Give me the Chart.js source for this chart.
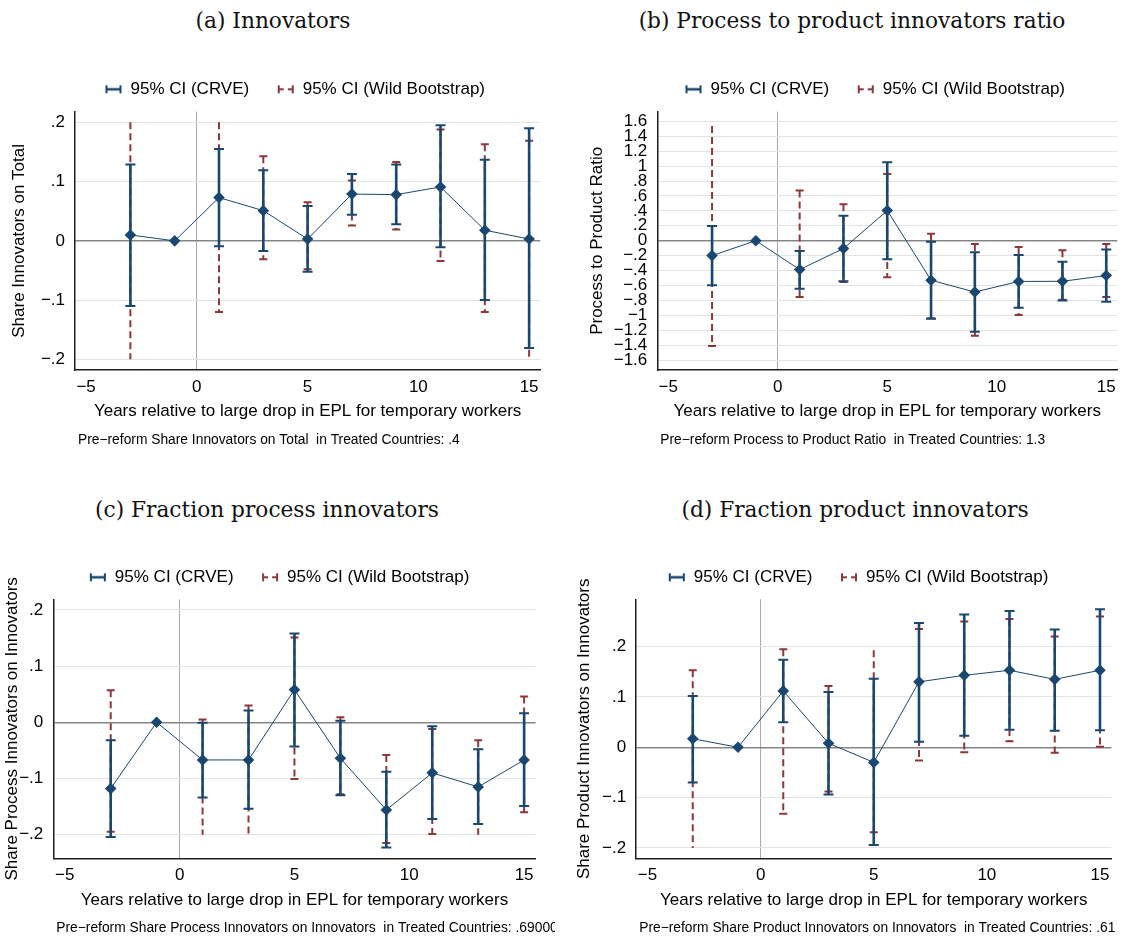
<!DOCTYPE html>
<html><head><meta charset="utf-8">
<script src="https://cdn.jsdelivr.net/npm/chart.js@4.4.1/dist/chart.umd.min.js"></script>
<style>
html,body{margin:0;padding:0;background:#fff;}
body{width:1123px;height:936px;overflow:hidden;position:relative;}
#page{position:absolute;left:0;top:0;width:1123px;height:936px;overflow:hidden;background:#fff;}
canvas{position:absolute;}
.ptitle{position:absolute;width:600px;text-align:center;font-family:'DejaVu Serif',serif;font-size:21.7px;line-height:24px;color:#111;white-space:nowrap;}
</style></head><body><div id="page">
<div class="ptitle" id="t0"></div><div class="ptitle" id="t1"></div>
<div class="ptitle" id="t2"></div><div class="ptitle" id="t3"></div>
<canvas id="c0"></canvas><canvas id="c1"></canvas><canvas id="c2"></canvas><canvas id="c3"></canvas>
</div>
<script>
// ---------- shared categories / labels ----------
const years = [-3, -1, 1, 3, 5, 7, 9, 11, 13, 15];
const xTickValues = [-5, 0, 5, 10, 15];
const xTickLabels = ['−5', '0', '5', '10', '15'];
const shareTickValues = [-0.2, -0.1, 0, 0.1, 0.2];
const shareTickLabels = ['−.2', '−.1', '0', '.1', '.2'];
const ratioTickValues = [-1.6, -1.4, -1.2, -1, -0.8, -0.6, -0.4, -0.2, 0, 0.2, 0.4, 0.6, 0.8, 1, 1.2, 1.4, 1.6];
const ratioTickLabels = ['−1.6', '−1.4', '−1.2', '−1', '−.8', '−.6', '−.4', '−.2', '0', '.2', '.4', '.6', '.8', '1', '1.2', '1.4', '1.6'];
const legendLabels = ['95% CI (CRVE)', '95% CI (Wild Bootstrap)'];
const xAxisTitle = 'Years relative to large drop in EPL for temporary workers';
const panelTitles = ['(a) Innovators', '(b) Process to product innovators ratio', '(c) Fraction process innovators', '(d) Fraction product innovators'];
const yAxisTitles = ['Share Innovators on Total', 'Process to Product Ratio', 'Share Process Innovators on Innovators', 'Share Product Innovators on Innovators'];
const notes = [
  'Pre−reform Share Innovators on Total  in Treated Countries: .4',
  'Pre−reform Process to Product Ratio  in Treated Countries: 1.3',
  'Pre−reform Share Process Innovators on Innovators  in Treated Countries: .69000',
  'Pre−reform Share Product Innovators on Innovators  in Treated Countries: .61'
];

// ---------- (a) Innovators ----------
const innovEst    = [0.010, 0, 0.073, 0.051, 0.003, 0.079, 0.078, 0.091, 0.018, 0.003];
const innovCrveLo = [-0.110, null, -0.009, -0.017, -0.052, 0.044, 0.028, -0.011, -0.100, -0.181];
const innovCrveHi = [0.129, null, 0.155, 0.119, 0.059, 0.113, 0.129, 0.195, 0.137, 0.190];
const innovWildLo = [-0.200, null, -0.120, -0.031, -0.048, 0.026, 0.019, -0.034, -0.120, -0.200];
const innovWildHi = [0.200, null, 0.200, 0.143, 0.065, 0.102, 0.133, 0.188, 0.163, 0.169];
const innovWildOpenHi = [-3, 1];
const innovWildOpenLo = [-3, 15];

// ---------- (b) Process to product ratio ----------
const ratioEst    = [-0.200, 0, -0.387, -0.105, 0.404, -0.530, -0.688, -0.546, -0.544, -0.467];
const ratioCrveLo = [-0.598, null, -0.643, -0.545, -0.250, -1.045, -1.220, -0.900, -0.800, -0.818];
const ratioCrveHi = [0.198, null, -0.139, 0.335, 1.052, -0.013, -0.155, -0.191, -0.283, -0.117];
const ratioWildLo = [-1.410, null, -0.755, -0.553, -0.490, -1.040, -1.274, -0.995, -0.790, -0.755];
const ratioWildHi = [1.537, null, 0.674, 0.490, 0.894, 0.092, -0.045, -0.083, -0.128, -0.045];
const ratioWildOpenHi = [-3];
const ratioWildOpenLo = [];

// ---------- (c) Fraction process innovators ----------
const procEst    = [-0.118, 0, -0.067, -0.067, 0.058, -0.064, -0.156, -0.090, -0.115, -0.067];
const procCrveLo = [-0.204, null, -0.134, -0.154, -0.043, -0.130, -0.223, -0.172, -0.181, -0.149];
const procCrveHi = [-0.032, null, -0.001, 0.021, 0.158, 0.003, -0.088, -0.007, -0.048, 0.016];
const procWildLo = [-0.195, null, -0.200, -0.200, -0.101, -0.128, -0.215, -0.199, -0.200, -0.160];
const procWildHi = [0.057, null, 0.005, 0.030, 0.151, 0.009, -0.058, -0.012, -0.032, 0.046];
const procWildOpenHi = [];
const procWildOpenLo = [1, 3, 13];

// ---------- (d) Fraction product innovators ----------
const prodEst    = [0.017, 0, 0.112, 0.008, -0.030, 0.130, 0.143, 0.153, 0.135, 0.153];
const prodCrveLo = [-0.070, null, 0.050, -0.094, -0.194, 0.011, 0.023, 0.035, 0.033, 0.034];
const prodCrveHi = [0.102, null, 0.174, 0.110, 0.136, 0.247, 0.264, 0.271, 0.234, 0.274];
const prodWildLo = [-0.200, null, -0.132, -0.088, -0.169, -0.026, -0.010, 0.012, -0.011, 0.001];
const prodWildHi = [0.153, null, 0.195, 0.122, 0.193, 0.235, 0.250, 0.255, 0.220, 0.260];
const prodWildOpenHi = [5];
const prodWildOpenLo = [-3];

// ---------- styles / layout ----------
const NAVY = '#1a476f', MAROON = '#90353b';
Chart.defaults.font.family = "'Liberation Sans', Arial, sans-serif";
Chart.defaults.font.size = 17;
Chart.defaults.color = '#000';

const layouts = [
  {left: 0,   top: 40,  width: 546, height: 412, padT: 12.8, padR: 1,    padB: 30,   yW: 75,   yTitlePad: 9.5,  spacer: 3.9, legendC: 295,   titleC: 273, titleTop: 9},
  {left: 560, top: 40,  width: 563, height: 412, padT: 12.8, padR: 0,    padB: 30,   yW: 97.3, yTitlePad: 27.4, spacer: 3.9, legendC: 315,   titleC: 852, titleTop: 9},
  {left: 0,   top: 528, width: 556, height: 408, padT: 12.8, padR: 20.4, padB: 25.7, yW: 53.3, yTitlePad: 2.5,  spacer: 3.5, legendC: 279.4, titleC: 267, titleTop: 498},
  {left: 570, top: 528, width: 553, height: 408, padT: 12.8, padR: 11.7, padB: 25.7, yW: 66.2, yTitlePad: 4,    spacer: 3.5, legendC: 288.3, titleC: 855, titleTop: 498}
];
layouts[2].clipNote = 555;

function makeSymbol(color, dashed) {
  const c = document.createElement('canvas'); c.width = 18; c.height = 10;
  const g = c.getContext('2d'); g.strokeStyle = color;
  g.lineWidth = dashed ? 2 : 2.5;
  g.beginPath();
  if (dashed) { g.moveTo(1, 5); g.lineTo(7, 5); g.moveTo(11, 5); g.lineTo(17, 5); }
  else { g.moveTo(1, 5); g.lineTo(17, 5); }
  g.stroke();
  g.lineWidth = 2; g.beginPath(); g.moveTo(2, 1); g.lineTo(2, 9); g.moveTo(16, 1); g.lineTo(16, 9); g.stroke();
  return c;
}

// centres the legend row on a chosen x position of the canvas
const legendShiftPlugin = {
  id: 'legendShift',
  afterLayout(chart, args, opts) {
    const lg = chart.legend;
    if (!lg || opts.center == null) return;
    const dx = opts.center - (lg.left + lg.right) / 2;
    lg.left += dx; lg.right += dx;
  }
};

const errorBarPlugin = {
  id: 'errorBars',
  beforeDatasetsDraw(chart) {
    const {ctx, chartArea: a, scales: {x, y}} = chart;
    ctx.save();
    ctx.beginPath(); ctx.rect(a.left, a.top, a.right - a.left, a.bottom - a.top); ctx.clip();
    const sets = chart.data.datasets.filter(d => d.ciLo).slice().reverse();
    sets.forEach(ds => {
      ds.ciLo.forEach((lo, i) => {
        const hi = ds.ciHi[i];
        if (lo == null || hi == null) return;
        const xv = years[i];
        const px = x.getPixelForValue(xv);
        const pLo = y.getPixelForValue(lo), pHi = y.getPixelForValue(hi);
        ctx.strokeStyle = ds.borderColor;
        ctx.lineWidth = ds.barWidth;
        ctx.setLineDash(ds.dash);
        ctx.beginPath(); ctx.moveTo(px, pHi); ctx.lineTo(px, pLo); ctx.stroke();
        ctx.setLineDash([]);
        ctx.lineWidth = 2;
        const hw = ds.capHalf;
        ctx.beginPath();
        if (!ds.openHi.includes(xv)) { ctx.moveTo(px - hw, pHi); ctx.lineTo(px + hw, pHi); }
        if (!ds.openLo.includes(xv)) { ctx.moveTo(px - hw, pLo); ctx.lineTo(px + hw, pLo); }
        ctx.stroke();
      });
    });
    ctx.restore();
  }
};

const notePlugin = {
  id: 'panelNote',
  afterDraw(chart, args, opts) {
    const {ctx, chartArea: a} = chart;
    ctx.save();
    if (opts.clipRight) { ctx.beginPath(); ctx.rect(0, 0, opts.clipRight, chart.height); ctx.clip(); }
    ctx.font = "13.8px 'Liberation Sans', Arial, sans-serif";
    ctx.fillStyle = '#000';
    ctx.textBaseline = 'middle';
    ctx.textAlign = 'left';
    ctx.fillText(opts.text, a.left + 3, a.bottom + 70);
    ctx.restore();
  }
};

const panels = [
  {est: innovEst, crveLo: innovCrveLo, crveHi: innovCrveHi, wildLo: innovWildLo, wildHi: innovWildHi, openHi: innovWildOpenHi, openLo: innovWildOpenLo, yMin: -0.218, yMax: 0.218, yTicks: shareTickValues, yLabels: shareTickLabels},
  {est: ratioEst, crveLo: ratioCrveLo, crveHi: ratioCrveHi, wildLo: ratioWildLo, wildHi: ratioWildHi, openHi: ratioWildOpenHi, openLo: ratioWildOpenLo, yMin: -1.733, yMax: 1.729, yTicks: ratioTickValues, yLabels: ratioTickLabels},
  {est: procEst, crveLo: procCrveLo, crveHi: procCrveHi, wildLo: procWildLo, wildHi: procWildHi, openHi: procWildOpenHi, openLo: procWildOpenLo, yMin: -0.2421, yMax: 0.219, yTicks: shareTickValues, yLabels: shareTickLabels},
  {est: prodEst, crveLo: prodCrveLo, crveHi: prodCrveHi, wildLo: prodWildLo, wildHi: prodWildHi, openHi: prodWildOpenHi, openLo: prodWildOpenLo, yMin: -0.2205, yMax: 0.294, yTicks: shareTickValues, yLabels: shareTickLabels}
];

panels.forEach((p, k) => {
  const L = layouts[k];
  const t = document.getElementById('t' + k);
  t.textContent = panelTitles[k];
  t.style.left = (L.titleC - 300) + 'px';
  t.style.top = L.titleTop + 'px';
  const cv = document.getElementById('c' + k);
  cv.width = L.width; cv.height = L.height;
  cv.style.left = L.left + 'px'; cv.style.top = L.top + 'px';
  cv.style.width = L.width + 'px'; cv.style.height = L.height + 'px';

  new Chart(cv, {
    type: 'line',
    data: {
      datasets: [
        {label: 'estimate', data: years.map((xv, i) => ({x: xv, y: p.est[i]})),
         borderColor: NAVY, backgroundColor: NAVY, borderWidth: 1,
         pointStyle: 'rectRot', pointRadius: 5.8, pointHoverRadius: 5.8, pointBorderWidth: 0,
         pointBackgroundColor: NAVY, tension: 0},
        {label: legendLabels[0], data: [], borderColor: NAVY, ciLo: p.crveLo, ciHi: p.crveHi,
         barWidth: 2.6, dash: [], capHalf: 5, openHi: [], openLo: [], legendSymbol: makeSymbol(NAVY, false)},
        {label: legendLabels[1], data: [], borderColor: MAROON, ciLo: p.wildLo, ciHi: p.wildHi,
         barWidth: 2, dash: [7, 4], capHalf: 4, openHi: p.openHi, openLo: p.openLo, legendSymbol: makeSymbol(MAROON, true)}
      ]
    },
    options: {
      responsive: false, animation: false, devicePixelRatio: 1, events: [],
      layout: {padding: {top: L.padT, right: L.padR, bottom: L.padB, left: 0}},
      plugins: {
        tooltip: {enabled: false},
        title: {display: false},
        subtitle: {display: true, text: '', weight: 500, font: {size: 1, lineHeight: 1}, padding: {top: L.spacer - 1, bottom: 0}},
        legend: {
          display: true, position: 'top', align: 'center',
          labels: {
            usePointStyle: true, pointStyleWidth: 17, padding: 28, color: '#000', font: {size: 17},
            generateLabels: chart => chart.data.datasets
              .map((ds, i) => ({text: ds.label, pointStyle: ds.legendSymbol, fillStyle: ds.borderColor,
                strokeStyle: ds.borderColor, lineWidth: 0, hidden: false, datasetIndex: i, fontColor: '#000'}))
              .filter(it => chart.data.datasets[it.datasetIndex].legendSymbol)
          }
        },
        legendShift: {center: L.legendC},
        panelNote: {text: notes[k], clipRight: L.clipNote ? L.clipNote - L.left : 0}
      },
      scales: {
        x: {
          type: 'linear', position: 'bottom', min: -5.5, max: 15.5,
          afterBuildTicks: s => { s.ticks = xTickValues.map(v => ({value: v})); },
          afterFit: s => { s.height = 52; },
          ticks: {autoSkip: false, maxRotation: 0, padding: 7, color: '#000', font: {size: 17},
                  callback: (v, i) => xTickLabels[i]},
          grid: {drawTicks: false, lineWidth: 1,
                 color: c => (c.tick && c.tick.value === 0) ? '#a9a9a9' : 'rgba(0,0,0,0)'},
          border: {display: true, color: '#1e1e1e', width: 1.5},
          title: {display: true, text: xAxisTitle, color: '#000', font: {size: 17}, padding: {top: 0, bottom: 0}}
        },
        y: {
          type: 'linear', position: 'left', min: p.yMin, max: p.yMax,
          afterBuildTicks: s => { s.ticks = p.yTicks.map(v => ({value: v})); },
          afterFit: s => { s.width = L.yW; },
          ticks: {autoSkip: false, padding: 10, color: '#000', font: {size: 17},
                  callback: (v, i) => p.yLabels[i]},
          grid: {drawTicks: false,
                 lineWidth: c => (c.tick && Math.abs(c.tick.value) < 1e-9) ? 1.4 : 1,
                 color: c => (c.tick && Math.abs(c.tick.value) < 1e-9) ? '#858585' : '#e3e3e3'},
          border: {display: true, color: '#1e1e1e', width: 1.5},
          title: {display: true, text: yAxisTitles[k], color: '#000', font: {size: 17}, padding: {top: L.yTitlePad, bottom: 0}}
        }
      }
    },
    plugins: [legendShiftPlugin, errorBarPlugin, notePlugin]
  });
});
</script>
</body></html>
